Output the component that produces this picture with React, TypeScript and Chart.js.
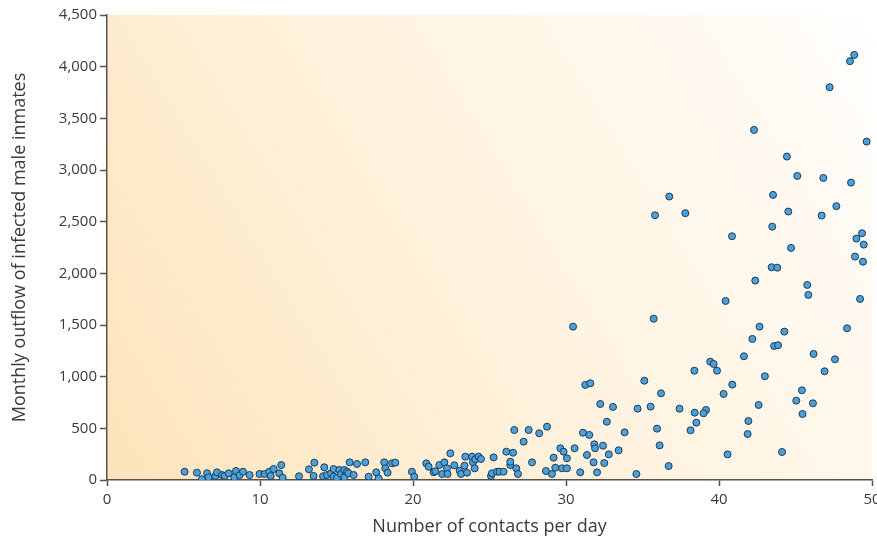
import React, { useEffect, useRef } from "react";
import { Chart, registerables } from "chart.js";

Chart.register(...registerables);

const contactsPerDay: number[] = [
  5.07, 5.88, 6.2, 6.54, 6.64, 7.08, 7.19, 7.52, 7.69, 7.95, 8.32, 8.43, 8.67, 8.89, 9.32, 9.97, 10.3, 10.6, 10.7, 10.89,
  11.26, 11.39, 11.48, 12.55, 13.2, 13.55, 13.5, 14.2, 14.12, 14.38, 14.64, 14.81, 14.81, 15.03, 15.18, 15.29, 15.51, 15.51,
  15.69, 15.86, 15.79, 16.12, 16.34,
  16.88, 17.1, 17.6, 17.75, 18.12, 18.19, 18.34, 18.63, 18.84, 19.93, 20.08, 20.87, 21.02, 21.35, 21.46, 21.72, 21.9, 22.05,
  22.22, 22.26, 22.44, 22.7, 23.05, 23.14, 23.36, 23.42, 23.53, 23.86, 23.92, 24.03, 24.07, 24.29, 24.44, 25.1, 25.16, 25.27,
  25.49, 25.66, 25.92, 26.1, 26.36, 26.36, 26.54, 26.62, 26.75, 26.86, 27.23, 27.56, 27.78, 28.25, 28.76, 28.69, 29.08, 29.19,
  29.3, 29.63, 29.74, 29.84, 30.06, 30.06, 30.56, 30.93, 31.11, 31.37, 31.52, 31.8, 31.85, 31.9, 32.03, 32.24,
  30.46, 35.73, 39.43, 39.65, 39.87, 38.39, 31.26, 31.59, 35.12, 36.21, 33.07, 34.68, 35.53, 37.42, 38.41, 39.15, 38.99,
  32.67, 38.52, 33.83, 35.95, 38.14, 32.42, 32.8, 33.44, 36.12, 32.5, 34.6, 36.71,
  42.37, 45.77, 45.84, 40.43, 49.22, 42.65, 44.27, 42.18, 43.6, 43.86, 48.37, 41.63, 46.18, 47.58, 46.9, 43.0, 40.87, 40.3,
  45.42, 45.05, 46.14, 45.46, 42.59, 41.92, 41.87, 40.56, 44.12,
  48.84, 48.56, 47.23, 42.29, 49.65, 44.44, 45.12, 46.82, 48.63, 36.75, 43.53, 35.82, 37.8, 44.53, 46.71, 47.67, 40.85,
  43.48, 49.35, 48.98, 49.46, 44.71, 48.89, 49.41, 43.44, 43.81,
];

const monthlyOutflow: number[] = [
  80, 71, 7, 65, 26, 39, 74, 48, 39, 65, 26, 87, 48, 80, 48, 58, 58, 80, 39, 106,
  65, 145, 22, 36, 103, 168, 39, 123, 36, 48, 65, 106, 32, 22, 97, 58, 97, 26,
  80, 171, 65, 48, 155,
  171, 32, 74, 16, 171, 113, 71, 161, 168, 80, 32, 161, 129, 75, 85, 145, 58, 171,
  113, 58, 258, 142, 90, 58, 138, 226, 71, 226, 171, 113, 200, 226, 203, 39, 65, 219,
  80, 80, 80, 274, 145, 177, 264, 484, 113, 58, 371, 484, 171, 452, 516, 87, 58, 216,
  119, 307, 113, 274, 210, 113, 307, 74, 458, 242, 436, 171, 345, 307, 74, 736,
  1484, 1561, 1145, 1123, 1058, 1058, 920, 936, 961, 839, 707, 690, 710, 690, 652, 678, 646,
  564, 555, 461, 497, 481, 332, 248, 287, 335, 164, 58, 135,
  1930, 1888, 1791, 1733, 1752, 1484, 1436, 1365, 1297, 1304, 1468, 1197, 1220, 1168, 1052, 1004, 923, 833,
  868, 768, 742, 639, 726, 571, 445, 248, 271,
  4114, 4053, 3801, 3388, 3275, 3130, 2943, 2923, 2878, 2743, 2759, 2562, 2582, 2598, 2559, 2650, 2359,
  2452, 2388, 2336, 2278, 2246, 2162, 2113, 2059, 2055,
];

const xTitle = "Number of contacts per day";
const yTitle = "Monthly outflow of infected male inmates";

const backgroundPlugin = {
  id: "gradientBg",
  beforeDraw(chart: any) {
    const { ctx, chartArea } = chart;
    if (!chartArea) return;
    const { left, right, top, bottom } = chartArea;
    const g = ctx.createLinearGradient(left, bottom, right, top);
    g.addColorStop(0, "#fde3ba");
    g.addColorStop(0.45, "#fff2dc");
    g.addColorStop(0.85, "#fffaf2");
    g.addColorStop(1, "#ffffff");
    ctx.save();
    ctx.fillStyle = g;
    ctx.fillRect(left, top, right - left, bottom - top);
    ctx.restore();
  },
};

export default function App() {
  const canvasRef = useRef<HTMLCanvasElement | null>(null);

  useEffect(() => {
    if (!canvasRef.current) return;
    const points = contactsPerDay.map((x, i) => ({ x, y: monthlyOutflow[i] }));
    const textColor = "#3a3a3a";
    const axisColor = "#5a524a";
    const chart = new Chart(canvasRef.current, {
      type: "scatter",
      data: {
        datasets: [
          {
            data: points,
            backgroundColor: "#4aa2dd",
            borderColor: "#1b3b58",
            borderWidth: 1,
            pointRadius: 3.5,
          },
        ],
      },
      plugins: [backgroundPlugin],
      options: {
        animation: false,
        responsive: true,
        maintainAspectRatio: false,
        layout: { padding: { top: 15, right: 5, left: 0, bottom: 0 } },
        plugins: { legend: { display: false }, tooltip: { enabled: false } },
        scales: {
          x: {
            type: "linear",
            min: 0,
            max: 50,
            ticks: {
              stepSize: 10,
              color: textColor,
              font: { family: "'Open Sans'", size: 15 },
              padding: 5,
            },
            grid: {
              drawOnChartArea: false,
              drawTicks: true,
              tickLength: 6,
              tickColor: axisColor,
              tickWidth: 1.5,
            },
            border: { display: true, color: axisColor, width: 1.5 },
            title: {
              display: true,
              text: xTitle,
              color: textColor,
              font: { family: "'Open Sans'", size: 18 },
              padding: { top: 0, bottom: 3 },
            },
            afterFit: (scale: any) => {
              scale.height = 61;
              scale.paddingLeft = 0;
              scale.paddingRight = 0;
            },
          },
          y: {
            type: "linear",
            min: 0,
            max: 4500,
            ticks: {
              stepSize: 500,
              color: textColor,
              font: { family: "'Open Sans'", size: 15 },
              padding: 3,
              callback: (v: any) => Number(v).toLocaleString("en-US"),
            },
            grid: {
              drawOnChartArea: false,
              drawTicks: true,
              tickLength: 7,
              tickColor: axisColor,
              tickWidth: 1.5,
            },
            border: { display: true, color: axisColor, width: 1.5 },
            title: {
              display: true,
              text: yTitle,
              color: textColor,
              font: { family: "'Open Sans'", size: 18 },
              padding: { top: 9, bottom: 0 },
            },
            afterFit: (scale: any) => {
              scale.width = 107;
              scale.paddingTop = 0;
              scale.paddingBottom = 0;
            },
          },
        },
      },
    });
    return () => chart.destroy();
  }, []);

  return (
    <div style={{ position: "fixed", left: 0, top: 0, width: 877, height: 541, background: "#ffffff" }}>
      <canvas ref={canvasRef} />
    </div>
  );
}
